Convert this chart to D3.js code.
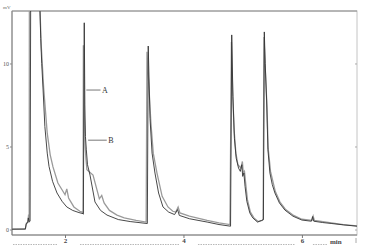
<!DOCTYPE html>
<html>
<head>
<meta charset="utf-8">
<script src="https://cdn.jsdelivr.net/npm/d3@7"></script>
<style>
  body { margin: 0; background: #fff; }
  text { font-family: "Liberation Serif", "DejaVu Serif", serif; }
</style>
</head>
<body>
<svg></svg>
<script>

// time (min), signal (mV)
var seriesA = [
	[1.105,0.02],[1.33,0.03],[1.345,0.35],[1.37,0.4],[1.38,0.7],[1.395,0.45],[1.41,0.5],
	[1.425,20],[1.565,20],[1.575,13.5],[1.59,11.5],[1.607,10],[1.63,8.4],[1.66,6.2],
	[1.70,4.6],[1.73,3.8],[1.79,2.9],[1.865,2.2],[1.95,1.7],[2.03,1.36],[2.13,1.15],
	[2.236,1.02],[2.31,0.95],
	[2.325,12.45],[2.335,7.5],[2.345,5.6],[2.36,4.8],[2.38,3.9],[2.422,3.28],[2.506,1.66],
	[2.6,1.15],[2.709,0.87],[2.9,0.6],[3.1,0.48],[3.39,0.36],
	[3.405,11.05],[3.435,6.7],[3.47,4.6],[3.519,3.4],[3.58,2.2],[3.654,1.36],[3.75,1.05],
	[3.85,0.9],[3.9,1.2],[3.93,0.85],[4.1,0.65],[4.4,0.45],[4.6,0.3],[4.795,0.2],
	[4.815,11.72],[4.835,8.0],[4.86,5.5],[4.89,4.3],[4.93,3.7],[4.96,3.5],[4.985,3.9],
	[5.0,3.2],[5.02,3.4],[5.04,2.6],[5.07,1.7],[5.12,1.0],[5.17,0.7],[5.25,0.45],
	[5.32,0.55],[5.35,0.6],
	[5.365,11.9],[5.38,10],[5.404,7.8],[5.426,4.8],[5.46,3.4],[5.5,2.7],[5.544,2.2],
	[5.62,1.6],[5.713,1.17],[5.85,0.8],[6.0,0.57],[6.16,0.5],[6.18,0.78],[6.2,0.5],
	[6.35,0.42],[6.506,0.36],[6.7,0.28],[6.93,0.2]
];

var seriesB = [
	[1.105,0.02],[1.33,0.03],[1.35,0.4],[1.375,0.45],[1.385,0.9],[1.395,0.5],
	[1.40,20],[1.56,20],[1.575,13.5],[1.60,11],[1.64,8.5],[1.70,5.8],[1.75,4.5],
	[1.797,3.77],[1.88,2.8],[1.983,2.2],[2.0,2.1],[2.03,2.45],[2.06,1.9],[2.15,1.36],
	[2.25,1.1],[2.29,1.05],[2.305,0.98],
	[2.31,11.1],[2.325,7],[2.34,5.0],[2.355,4.2],[2.37,3.6],[2.473,3.28],[2.58,1.85],
	[2.62,2.05],[2.66,1.6],[2.75,1.15],[2.878,0.87],[3.0,0.7],[3.2,0.55],[3.37,0.45],
	[3.384,10.7],[3.45,6.45],[3.49,4.6],[3.553,3.4],[3.64,2.0],[3.738,1.36],[3.82,1.1],
	[3.87,1.05],[3.91,1.35],[3.94,1.0],[4.1,0.8],[4.4,0.55],[4.6,0.4],[4.785,0.3],
	[4.81,11.3],[4.83,8.4],[4.855,6],[4.885,4.6],[4.92,3.9],[4.97,3.7],[4.995,4.1],
	[5.01,3.4],[5.03,3.5],[5.05,2.8],[5.08,1.8],[5.13,1.05],[5.19,0.7],[5.26,0.48],
	[5.33,0.55],[5.345,0.6],
	[5.36,11.6],[5.38,9.8],[5.41,7.4],[5.43,4.9],[5.47,3.5],[5.55,2.3],[5.63,1.65],
	[5.72,1.22],[5.86,0.85],[6.0,0.62],[6.17,0.55],[6.19,0.8],[6.21,0.55],[6.5,0.4],
	[6.7,0.3],[6.93,0.22]
];

var xTicks = [2, 4, 6];
var yTicks = [0, 5, 10];
var seriesLabels = ["A", "B"];

var w = 365,
    h = 249,
    pLeft = 12, pRight = 357,
    pTop = 11, pBottom = 235;

var svg = d3.select("svg")
	.attr("width", w)
	.attr("height", h)

var x = d3.scaleLinear()
	.domain([1.105, 6.93])
	.range([pLeft, pRight])
var y = d3.scaleLinear()
	.domain([-0.33, 13.16])
	.range([pBottom, pTop])

svg.append("clipPath")
	.attr("id", "plot")
	.append("rect")
	.attr("x", pLeft)
	.attr("y", pTop)
	.attr("width", pRight - pLeft)
	.attr("height", pBottom - pTop)

// frame
svg.append("rect")
	.attr("x", pLeft)
	.attr("y", pTop)
	.attr("width", pRight - pLeft)
	.attr("height", pBottom - pTop)
	.attr("fill", "none")
	.attr("stroke", "#c4c4c4")
svg.append("line")
	.attr("x1", pLeft).attr("x2", pLeft)
	.attr("y1", pTop).attr("y2", pBottom)
	.attr("stroke", "#777")
svg.append("line")
	.attr("x1", pLeft).attr("x2", pRight)
	.attr("y1", pTop).attr("y2", pTop)
	.attr("stroke", "#8a8a8a")
svg.append("line")
	.attr("x1", pLeft).attr("x2", pRight)
	.attr("y1", pBottom).attr("y2", pBottom)
	.attr("stroke", "#777")

// y axis
var gy = svg.append("g")
	.attr("transform", "translate(" + pLeft + ",0)")
	.call(d3.axisLeft(y).tickValues(yTicks).tickSize(2).tickPadding(1))
gy.select(".domain").remove()
gy.selectAll("line").attr("stroke", "#888")
gy.selectAll("text")
	.attr("font-size", 6)
	.attr("font-family", "Liberation Serif")
	.attr("fill", "#555")

var gyr = svg.append("g")
	.attr("transform", "translate(" + pRight + ",0)")
	.call(d3.axisLeft(y).tickValues(yTicks).tickSize(2).tickFormat(""))
gyr.select(".domain").remove()
gyr.selectAll("line").attr("stroke", "#aaa")

svg.append("text")
	.attr("x", 3)
	.attr("y", 9)
	.attr("font-size", 5)
	.attr("fill", "#666")
	.text("mV")

// x axis
var gx = svg.append("g")
	.attr("transform", "translate(0," + pBottom + ")")
	.call(d3.axisBottom(x).tickValues(xTicks).tickSize(3).tickPadding(0).tickFormat(d3.format("d")))
gx.select(".domain").remove()
gx.selectAll("line").attr("stroke", "#777")
gx.selectAll("text")
	.attr("font-size", 7)
	.attr("font-weight", "bold")
	.attr("font-family", "Liberation Serif")
	.attr("fill", "#444")

var dashSegs = [[1.122, 1.882], [2.253, 3.941], [4.245, 5.882], [6.186, 6.422]];
svg.selectAll(".dash")
	.data(dashSegs)
	.join("line")
	.attr("class", "dash")
	.attr("x1", function(d){ return x(d[0]); })
	.attr("x2", function(d){ return x(d[1]); })
	.attr("y1", 244.5)
	.attr("y2", 244.5)
	.attr("stroke", "#999")
	.attr("stroke-width", 0.7)
	.attr("stroke-dasharray", "1.5,1")

svg.append("text")
	.attr("x", 330)
	.attr("y", 244)
	.attr("font-size", 7)
	.attr("font-weight", "bold")
	.attr("fill", "#444")
	.text("min")
svg.append("line")
	.attr("x1", pRight - 1).attr("x2", pRight - 1)
	.attr("y1", pBottom + 3).attr("y2", pBottom + 8)
	.attr("stroke", "#aaa")

// traces
var line = d3.line()
	.x(function(d){ return x(d[0]); })
	.y(function(d){ return y(d[1]); })

var traces = svg.append("g").attr("clip-path", "url(#plot)")
traces.append("path")
	.datum(seriesB)
	.attr("d", line)
	.attr("fill", "none")
	.attr("stroke", "#9a9a9a")
	.attr("stroke-width", 1.3)
traces.append("path")
	.datum(seriesA)
	.attr("d", line)
	.attr("fill", "none")
	.attr("stroke", "#333")
	.attr("stroke-width", 0.9)

// labels with leaders
var labelPos = [
	{t0: 2.36, t1: 2.6, v: 8.4},
	{t0: 2.39, t1: 2.705, v: 5.38}
];
var gl = svg.selectAll(".lab")
	.data(seriesLabels)
	.join("g")
	.attr("class", "lab")
gl.append("line")
	.attr("x1", function(d, i){ return x(labelPos[i].t0); })
	.attr("x2", function(d, i){ return x(labelPos[i].t1); })
	.attr("y1", function(d, i){ return y(labelPos[i].v); })
	.attr("y2", function(d, i){ return y(labelPos[i].v); })
	.attr("stroke", "#555")
	.attr("stroke-width", 0.8)
gl.append("text")
	.attr("x", function(d, i){ return x(labelPos[i].t1) + 1.5; })
	.attr("y", function(d, i){ return y(labelPos[i].v) + 2.5; })
	.attr("font-size", 8)
	.attr("fill", "#333")
	.text(function(d){ return d; })

</script>
</body>
</html>
